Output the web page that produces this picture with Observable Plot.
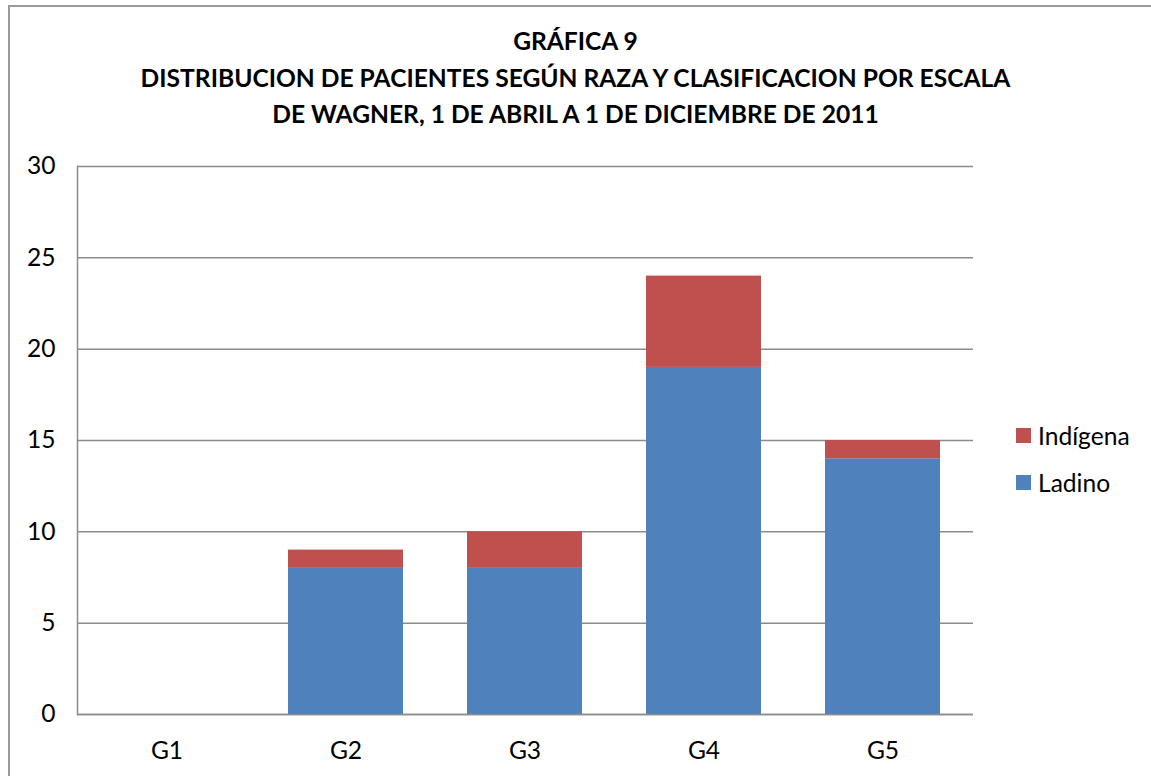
<!DOCTYPE html>
<html>
<head>
<meta charset="utf-8">
<script src="https://cdn.jsdelivr.net/npm/d3@7"></script>
<script src="https://cdn.jsdelivr.net/npm/@observablehq/plot@0.6"></script>
<style>
  html, body { margin: 0; padding: 0; background: #fff; overflow: hidden; }
  body { width: 1151px; height: 776px; position: relative; font-family: Lato, "Open Sans", sans-serif; color: #000; }
  #frame { position: absolute; left: 8px; top: 5px; width: 1170px; height: 800px; border: 2px solid #9a9a9a; box-sizing: border-box; pointer-events: none; }
  #title { height: 140px; box-sizing: border-box; padding-top: 23px; text-align: center; font-weight: bold; font-size: 24.6px; line-height: 36.5px; white-space: nowrap; padding-left: 0; }
  #legend { position: absolute; left: 1016px; top: 419px; font-size: 24.6px; }
  #legend .item { display: flex; align-items: center; height: 32px; margin-bottom: 15px; }
  #legend .sw { width: 15px; height: 15px; margin-right: 7px; }
</style>
</head>
<body>
<div id="title"></div>
<div id="chart"></div>
<div id="legend"></div>
<div id="frame"></div>
<script>
const titleLines = ["GRÁFICA 9", "DISTRIBUCION DE PACIENTES SEGÚN RAZA Y CLASIFICACION POR ESCALA", "DE WAGNER, 1 DE ABRIL A 1 DE DICIEMBRE DE 2011"];
const grupos = ["G1", "G2", "G3", "G4", "G5"];
const ladino = [0, 8, 8, 19, 14];
const indigena = [0, 1, 2, 5, 1];
const series = ["Ladino", "Indígena"];
const colores = ["#4F81BD", "#C0504D"];
const yTicks = [0, 5, 10, 15, 20, 25, 30];

document.getElementById("title").innerHTML = titleLines.join("<br>");

const rows = [];
grupos.forEach((g, i) => rows.push({grupo: g, serie: series[0], valor: ladino[i]}));
grupos.forEach((g, i) => rows.push({grupo: g, serie: series[1], valor: indigena[i]}));

const plot = Plot.plot({
  width: 1151,
  height: 636,
  marginLeft: 77,
  marginRight: 178,
  marginTop: 26,
  marginBottom: 62,
  style: {fontFamily: "Lato, 'Open Sans', sans-serif", fontSize: "24.6px", color: "#000", background: "transparent"},
  x: {domain: grupos, paddingInner: 0.356, paddingOuter: 0.178, label: null},
  y: {domain: [0, 30], ticks: yTicks, label: null},
  color: {domain: series, range: colores},
  marks: [
    Plot.ruleY(yTicks, {stroke: "#8c8c8c", strokeWidth: 1.5}),
    Plot.barY(rows, {x: "grupo", y: "valor", fill: "serie"}),
    Plot.ruleY([0], {stroke: "#8c8c8c", strokeWidth: 1.5}),
    Plot.frame({anchor: "left", stroke: "#8c8c8c", strokeWidth: 1.5}),
    Plot.axisY({ticks: yTicks, tickSize: 0, tickPadding: 22, label: null}),
    Plot.axisX({tickSize: 0, tickPadding: 27, label: null})
  ]
});
document.getElementById("chart").appendChild(plot);

const legend = document.getElementById("legend");
for (let i = series.length - 1; i >= 0; i--) {
  const item = document.createElement("div");
  item.className = "item";
  item.innerHTML = `<div class="sw" style="background:${colores[i]}"></div><span>${series[i]}</span>`;
  legend.appendChild(item);
}
</script>
</body>
</html>
